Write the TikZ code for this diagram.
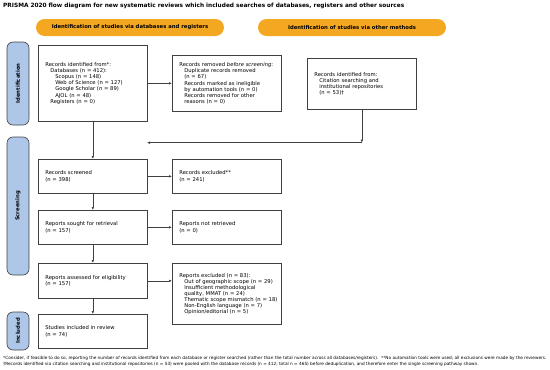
\documentclass[tikz,border=0pt]{standalone}
\usepackage{fontspec}
\setmainfont{DejaVu Sans}
\usetikzlibrary{arrows.meta,calc,positioning}
\definecolor{edge}{HTML}{404040}
\definecolor{phase}{HTML}{AEC7E8}
\definecolor{pill}{HTML}{F4A822}
\newcommand{\ind}{\hspace*{5pt}}
\newcommand{\indd}{\hspace*{10pt}}

\begin{document}
\begin{tikzpicture}[x=1pt,y=-1pt,>={Latex[length=3pt,width=2.6pt]},
  box/.style={draw=edge,line width=0.7pt,fill=white,anchor=north west,align=left,
    text width=95pt,inner xsep=7pt,inner ysep=2pt,font=\fontsize{5.25}{6.1}\selectfont},
  stage/.style={draw=edge,line width=0.6pt,fill=phase,rounded corners=6pt,rotate=90,
    minimum height=22pt,inner sep=0pt,font=\bfseries\fontsize{5.3}{6}\selectfont},
  header/.style={fill=pill,rounded corners=8.5pt,minimum width=188pt,minimum height=17pt,
    inner sep=0pt,font=\bfseries\fontsize{5.3}{6}\selectfont},
  flow/.style={->,draw=edge,line width=0.6pt}]
\useasboundingbox (0,0) rectangle (550,370);
\node[anchor=west,inner sep=0pt,font=\bfseries\fontsize{5.8}{6}\selectfont] (title) at (3,6)
  {PRISMA 2020 flow diagram for new systematic reviews which included searches of databases, registers and other sources};
% headers
\node[header] (hdb) at (130,27.5) {Identification of studies via databases and registers};
\node[header] (hother) at (352,27.5) {Identification of studies via other methods};
% stages
\node[stage,minimum width=83pt] (sident) at (18,83.5) {Identification};
\node[stage,minimum width=138pt] (sscreen) at (18,206) {Screening};
\node[stage,minimum width=38pt] (sincl) at (18,331) {Included};
% boxes
\node[box,minimum height=76pt] (ident) at (38,45) {Records identified from*:\\
  \ind Databases (n = 412):\\
  \indd Scopus (n = 148)\\
  \indd Web of Science (n = 127)\\
  \indd Google Scholar (n = 89)\\
  \indd AJOL (n = 48)\\
  \ind Registers (n = 0)};
\node[box,minimum height=56pt] (removed) at (172,55) {Records removed \textit{before screening}:\\
  \ind Duplicate records removed\\
  \ind (n = 67)\\
  \ind Records marked as ineligible\\
  \ind by automation tools (n = 0)\\
  \ind Records removed for other\\
  \ind reasons (n = 0)};
\node[box,minimum height=51pt] (other) at (307,58) {Records identified from:\\
  \ind Citation searching and\\
  \ind institutional repositories\\
  \ind (n = 53)†};
\node[box,minimum height=34pt] (screened) at (38,159) {Records screened\\(n = 398)};
\node[box,minimum height=34pt] (excluded) at (172,159) {Records excluded**\\(n = 241)};
\node[box,minimum height=34pt] (sought) at (38,210) {Reports sought for retrieval\\(n = 157)};
\node[box,minimum height=34pt] (notret) at (172,210) {Reports not retrieved\\(n = 0)};
\node[box,minimum height=35pt] (assessed) at (38,263) {Reports assessed for eligibility\\(n = 157)};
\node[box,minimum height=61pt] (repexcl) at (172,263) {Reports excluded (n = 83):\\
  \ind \mbox{Out of geographic scope (n = 29)}\\
  \ind Insufficient methodological\\
  \ind quality, MMAT (n = 24)\\
  \ind \mbox{Thematic scope mismatch (n = 18)}\\
  \ind Non-English language (n = 7)\\
  \ind Opinion/editorial (n = 5)};
\node[box,minimum height=34pt] (included) at (38,314) {Studies included in review\\(n = 74)};
% connectors
\coordinate (merge) at ($(other.south)+(0,33)$);
\coordinate (mergeend) at (147,142.5);
\draw[flow] (ident) -- (removed);
\draw[flow] (ident) -- (screened);
\draw[flow] (other) -- (merge);
\draw[flow] (merge) -- (merge -| mergeend);
\draw[flow] (screened) -- (excluded);
\draw[flow] (screened) -- (sought);
\draw[flow] (sought) -- (notret);
\draw[flow] (sought) -- (assessed);
\draw[flow] (assessed.east) -- (assessed.east -| repexcl.west);
\draw[flow] (assessed) -- (included);
% notes
\node[anchor=west,align=left,inner sep=0pt,font=\fontsize{4.25}{6}\selectfont] (notes) at (3,361.5)
  {*Consider, if feasible to do so, reporting the number of records identified from each database or register searched (rather than the total number across all databases/registers).\ \ **No automation tools were used; all exclusions were made by the reviewers.\\
  †Records identified via citation searching and institutional repositories (n = 53) were pooled with the database records (n = 412; total n = 465) before deduplication, and therefore enter the single screening pathway shown.};
\end{tikzpicture}
\end{document}
